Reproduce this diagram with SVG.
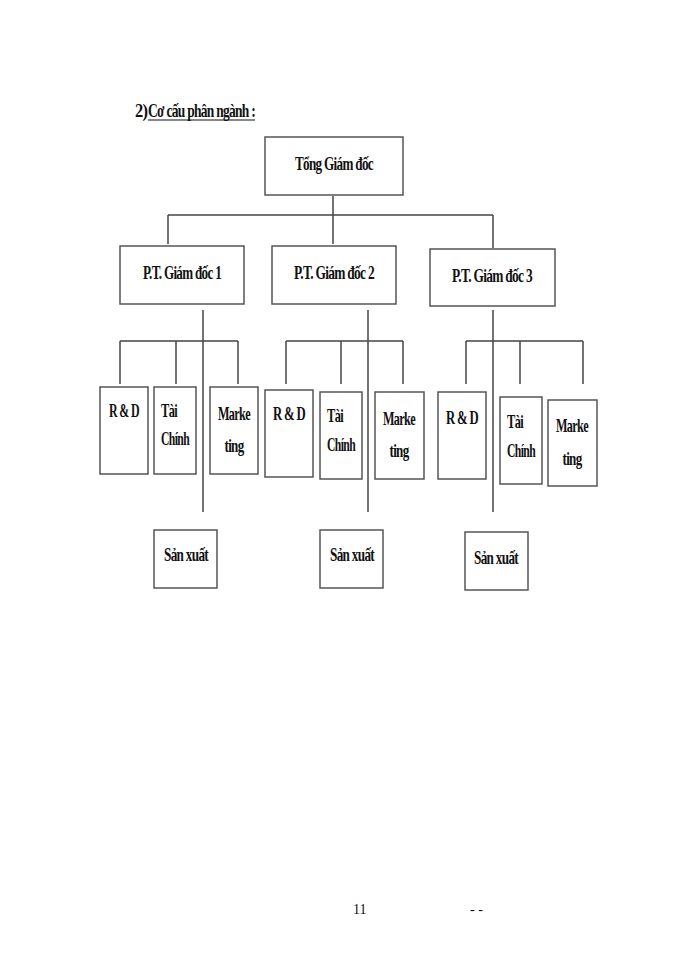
<svg xmlns="http://www.w3.org/2000/svg" width="700" height="960" viewBox="0 0 700 960">
<style>
rect{fill:#fff;stroke:#555;stroke-width:1.5}
.c line{stroke:#444;stroke-width:1.5}
text{font-family:"Liberation Serif",serif;font-weight:bold;font-size:19px;fill:#111;letter-spacing:-1px}
.m{text-anchor:middle}
</style>
<rect x="0" y="0" width="700" height="960" style="stroke:none"/>
<g id="title">
<text x="135" y="117" textLength="12" lengthAdjust="spacingAndGlyphs">2)</text>
<text x="148" y="117" textLength="107" lengthAdjust="spacingAndGlyphs">Cơ cấu phân ngành :</text>
<line x1="148" y1="120" x2="255" y2="120" stroke="#111" stroke-width="1"/>
</g>
<g class="c">
<line x1="333" y1="196" x2="333" y2="215"/>
<line x1="168" y1="215" x2="493" y2="215"/>
<line x1="168" y1="215" x2="168" y2="244"/>
<line x1="333" y1="215" x2="333" y2="244"/>
<line x1="493" y1="215" x2="493" y2="248"/>
<line x1="203" y1="310" x2="203" y2="512"/>
<line x1="368" y1="310" x2="368" y2="512"/>
<line x1="493" y1="310" x2="493" y2="512"/>
<line x1="120" y1="341" x2="238" y2="341"/>
<line x1="120" y1="341" x2="120" y2="384"/><line x1="176" y1="341" x2="176" y2="384"/><line x1="238" y1="341" x2="238" y2="384"/>
<line x1="286" y1="341" x2="403" y2="341"/>
<line x1="286" y1="341" x2="286" y2="384"/><line x1="341" y1="341" x2="341" y2="384"/><line x1="403" y1="341" x2="403" y2="384"/>
<line x1="466" y1="341" x2="583" y2="341"/>
<line x1="466" y1="341" x2="466" y2="384"/><line x1="520" y1="341" x2="520" y2="384"/><line x1="583" y1="341" x2="583" y2="384"/>
</g>
<g id="tong"><rect x="265" y="137" width="138" height="58"/><text class="m" x="334" y="170" textLength="78" lengthAdjust="spacingAndGlyphs">Tổng Giám đốc</text></g>
<g id="pt1"><rect x="120" y="246" width="124" height="58"/><text class="m" x="182" y="279" textLength="78" lengthAdjust="spacingAndGlyphs">P.T. Giám đốc 1</text></g>
<g id="pt2"><rect x="272" y="246" width="124" height="58"/><text class="m" x="334" y="279" textLength="80" lengthAdjust="spacingAndGlyphs">P.T. Giám đốc 2</text></g>
<g id="pt3"><rect x="430" y="249" width="125" height="57"/><text class="m" x="492" y="282" textLength="80" lengthAdjust="spacingAndGlyphs">P.T. Giám đốc 3</text></g>
<g id="rd1"><rect x="100" y="387" width="48" height="87"/><text x="109" y="417" textLength="30" lengthAdjust="spacingAndGlyphs">R &amp; D</text></g>
<g id="tc1"><rect x="154" y="387" width="42" height="87"/><text x="161" y="417" textLength="16" lengthAdjust="spacingAndGlyphs">Tài</text><text x="161" y="445" textLength="28" lengthAdjust="spacingAndGlyphs">Chính</text></g>
<g id="mk1"><rect x="210" y="387" width="48" height="87"/><text class="m" x="234" y="420" textLength="32" lengthAdjust="spacingAndGlyphs">Marke</text><text class="m" x="234" y="452" textLength="19" lengthAdjust="spacingAndGlyphs">ting</text></g>
<g id="rd2"><rect x="265" y="390" width="48" height="87"/><text x="273" y="420" textLength="32" lengthAdjust="spacingAndGlyphs">R &amp; D</text></g>
<g id="tc2"><rect x="320" y="392" width="42" height="87"/><text x="327" y="422" textLength="16" lengthAdjust="spacingAndGlyphs">Tài</text><text x="327" y="451" textLength="28" lengthAdjust="spacingAndGlyphs">Chính</text></g>
<g id="mk2"><rect x="375" y="392" width="49" height="87"/><text class="m" x="399" y="425" textLength="32" lengthAdjust="spacingAndGlyphs">Marke</text><text class="m" x="399" y="457" textLength="19" lengthAdjust="spacingAndGlyphs">ting</text></g>
<g id="rd3"><rect x="438" y="392" width="48" height="87"/><text x="446" y="424" textLength="32" lengthAdjust="spacingAndGlyphs">R &amp; D</text></g>
<g id="tc3"><rect x="500" y="397" width="42" height="87"/><text x="507" y="428" textLength="16" lengthAdjust="spacingAndGlyphs">Tài</text><text x="507" y="457" textLength="28" lengthAdjust="spacingAndGlyphs">Chính</text></g>
<g id="mk3"><rect x="548" y="400" width="49" height="86"/><text class="m" x="572" y="432" textLength="32" lengthAdjust="spacingAndGlyphs">Marke</text><text class="m" x="572" y="465" textLength="19" lengthAdjust="spacingAndGlyphs">ting</text></g>
<g id="sx1"><rect x="154" y="530" width="63" height="58"/><text class="m" x="186" y="561" textLength="44" lengthAdjust="spacingAndGlyphs">Sản xuất</text></g>
<g id="sx2"><rect x="320" y="530" width="63" height="58"/><text class="m" x="352" y="561" textLength="44" lengthAdjust="spacingAndGlyphs">Sản xuất</text></g>
<g id="sx3"><rect x="465" y="532" width="63" height="58"/><text class="m" x="496" y="564" textLength="44" lengthAdjust="spacingAndGlyphs">Sản xuất</text></g>
<text x="353" y="914" style="font-weight:normal;font-size:14px;letter-spacing:0">11</text>
<text x="470" y="914" style="font-weight:normal;font-size:14px;letter-spacing:0">- -</text>
</svg>
